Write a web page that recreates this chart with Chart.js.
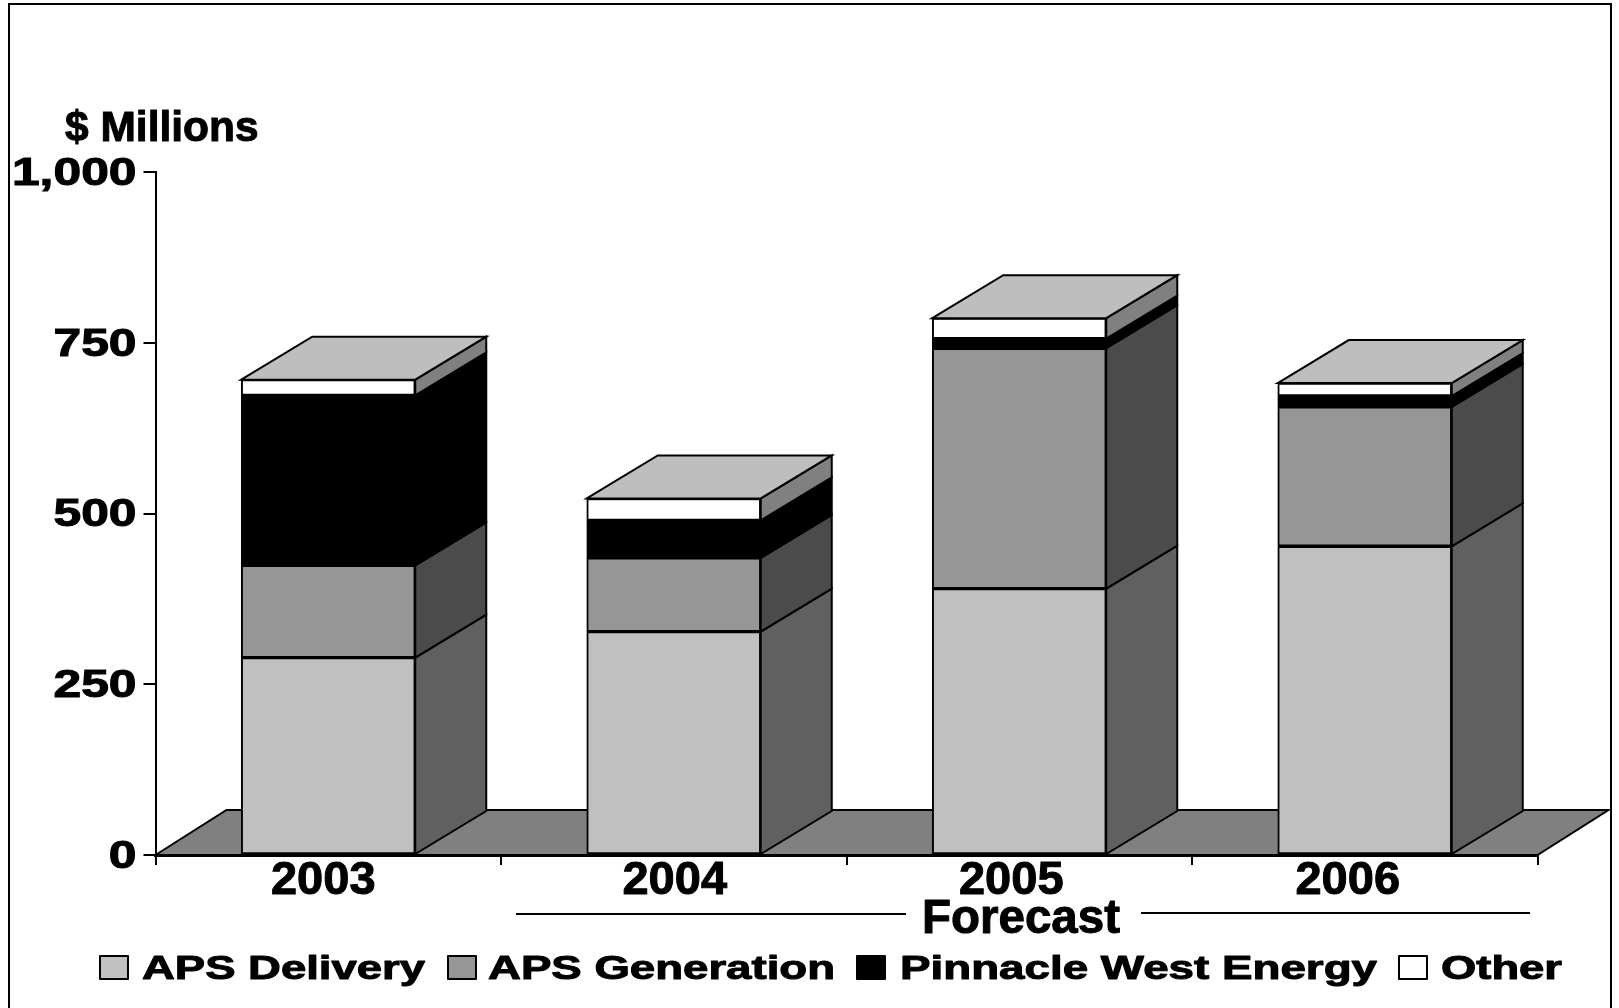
<!DOCTYPE html>
<html><head><meta charset="utf-8">
<style>html,body{margin:0;padding:0;background:#fff}canvas{display:block}</style>
<script src="https://cdn.jsdelivr.net/npm/chart.js@4"></script>
</head><body><canvas id="c" width="1619" height="1008"></canvas>
<script>
const categories = ['2003','2004','2005','2006'];
const apsDelivery = [289,327,390,452];
const apsGeneration = [135,108,352,204];
const pinnacleWest = [249,55,14,16];
const other = [23,32,30,19];
const seriesNames = ['APS Delivery','APS Generation','Pinnacle West Energy','Other'];
const yTickStep = 250, yMax = 1000;
const unitLabel = '$ Millions', forecastLabel = 'Forecast';

const FONT = '"Liberation Sans", Arial, sans-serif';
const DEPTH_X = 71, DEPTH_Y = 43, FLOOR_Y = 45;
const frontColors = ['#C0C0C0','#969696','#000000','#FFFFFF'];
const sideColors  = ['#606060','#4B4B4B','#000000','#808080'];
const topColor = '#BEBEBE', floorColor = '#808080';
const xLabelShift = [-5,1,-8,-17];
const legendLayout = [
  {box:100, text:142, end:425},
  {box:448, text:488, end:835},
  {box:857, text:900, end:1377},
  {box:1399,text:1441,end:1562}
];

function poly(ctx, pts, fill, lw){
  ctx.beginPath();
  pts.forEach((p,i)=> i?ctx.lineTo(p[0],p[1]):ctx.moveTo(p[0],p[1]));
  ctx.closePath();
  ctx.fillStyle = fill; ctx.fill();
  ctx.lineWidth = lw; ctx.strokeStyle = '#000'; ctx.lineJoin='miter'; ctx.stroke();
}
function heavyText(ctx, s, x, y, lw){
  ctx.fillText(s,x,y);
  ctx.lineWidth=lw; ctx.strokeStyle='#000'; ctx.lineJoin='round'; ctx.strokeText(s,x,y);
}

const decor = {
  id:'decor',
  beforeDraw(chart){
    const ctx = chart.ctx;
    ctx.save();
    ctx.fillStyle='#fff'; ctx.fillRect(0,0,chart.width,chart.height);
    ctx.strokeStyle='#000'; ctx.lineWidth=2;
    ctx.beginPath(); ctx.moveTo(9,1008); ctx.lineTo(9,4); ctx.lineTo(1611,4); ctx.lineTo(1611,1008); ctx.stroke();
    ctx.restore();
  },
  beforeDatasetsDraw(chart){
    const ctx = chart.ctx, x = chart.scales.x, y = chart.scales.y;
    const y0 = y.getPixelForValue(0);
    ctx.save();
    poly(ctx,[[x.left,y0],[x.left+DEPTH_X,y0-FLOOR_Y],[x.right+DEPTH_X,y0-FLOOR_Y],[x.right,y0]],floorColor,2);
    ctx.restore();
  },
  afterDatasetsDraw(chart){
    const ctx = chart.ctx;
    ctx.save();
    const n = chart.data.datasets.length;
    for(let d=0;d<n;d++){
      chart.getDatasetMeta(d).data.forEach(b=>{
        const p = b.getProps(['x','y','base','width'],true);
        const r = p.x+p.width/2, l = p.x-p.width/2;
        poly(ctx,[[r,p.y],[r+DEPTH_X,p.y-DEPTH_Y],[r+DEPTH_X,p.base-DEPTH_Y],[r,p.base]],sideColors[d],2);
        if(d===n-1) poly(ctx,[[l,p.y],[l+DEPTH_X,p.y-DEPTH_Y],[r+DEPTH_X,p.y-DEPTH_Y],[r,p.y]],topColor,2);
      });
    }
    ctx.restore();
  },
  afterDraw(chart){
    const ctx = chart.ctx;
    ctx.save();
    ctx.fillStyle='#000'; ctx.textBaseline='alphabetic';
    ctx.font='bold 42.5px '+FONT; ctx.textAlign='left';
    heavyText(ctx,unitLabel,65,141,1);
    ctx.font='bold 47.5px '+FONT; ctx.textAlign='center';
    heavyText(ctx,forecastLabel,1021,933,1);
    ctx.strokeStyle='#000'; ctx.lineWidth=2;
    ctx.beginPath(); ctx.moveTo(516,914); ctx.lineTo(906,914); ctx.moveTo(1141,913); ctx.lineTo(1530,913); ctx.stroke();
    seriesNames.forEach((name,i)=>{
      const L = legendLayout[i];
      ctx.fillStyle=frontColors[i]; ctx.strokeStyle='#000'; ctx.lineWidth=2;
      ctx.fillRect(L.box,956,28,23); ctx.strokeRect(L.box,956,28,23);
      ctx.font='bold 34px '+FONT; ctx.textAlign='left'; ctx.fillStyle='#000';
      const w = ctx.measureText(name).width;
      ctx.save();
      ctx.translate(L.text,979);
      ctx.scale((L.end-L.text)/w,1);
      heavyText(ctx,name,0,0,1);
      ctx.restore();
    });
    ctx.restore();
  }
};

new Chart(document.getElementById('c'),{
  type:'bar',
  data:{
    labels:categories,
    datasets:[apsDelivery,apsGeneration,pinnacleWest,other].map((v,i)=>({
      label:seriesNames[i], data:v,
      backgroundColor:frontColors[i], borderColor:'#000', borderWidth:2, borderSkipped:false,
      barThickness:174
    }))
  },
  options:{
    responsive:false, animation:false,
    layout:{padding:{top:172,right:81.5,left:0,bottom:0}},
    plugins:{legend:{display:false},tooltip:{enabled:false},title:{display:false}},
    scales:{
      x:{
        stacked:true,
        grid:{offset:true,drawOnChartArea:false,color:'#000',lineWidth:2,tickLength:10},
        border:{color:'#000',width:3},
        ticks:{color:'#000',font:{family:FONT,weight:'bold',size:47},padding:-12.5,maxRotation:0,autoSkip:false,textStrokeColor:'#000',textStrokeWidth:1},
        afterFit(s){s.height=153;},
        afterUpdate(s){
          if(s._wrapped) return; s._wrapped=true;
          const orig=s.drawLabels.bind(s);
          s.drawLabels=function(area){
            const items=s.getLabelItems(area);
            items.forEach((it,i)=>{ if(!it._sh){it._sh=true; it.options.translation[0]+=xLabelShift[i]||0;} });
            orig(area);
          };
        }
      },
      y:{
        stacked:true,min:0,max:yMax,
        grid:{drawOnChartArea:false,color:'#000',lineWidth:2,tickLength:12},
        border:{color:'#000',width:2},
        ticks:{stepSize:yTickStep,color:'#000',font:{family:FONT,weight:'bold',size:38},padding:7,textStrokeColor:'#000',textStrokeWidth:1},
        afterFit(s){s.width=155.5;},
        afterUpdate(s){
          if(s._wrapped) return; s._wrapped=true;
          const orig=s.drawLabels.bind(s);
          s.drawLabels=function(area){
            const xr=136.5, c=s.ctx;
            c.save(); c.translate(xr,2.5); c.scale(1.31,1); c.translate(-xr,0);
            orig(area);
            c.restore();
          };
        }
      }
    }
  },
  plugins:[decor]
});
</script></body></html>
